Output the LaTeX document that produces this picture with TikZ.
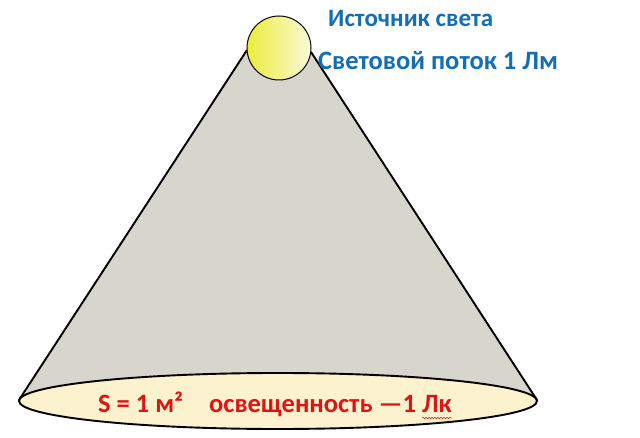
\documentclass[tikz,border=0pt]{standalone}
\usepackage{fontspec}
\setmainfont{Carlito}
\usetikzlibrary{decorations.pathmorphing,shapes.geometric}
\definecolor{conegray}{RGB}{214,214,204}
\definecolor{floorcream}{RGB}{253,242,206}
\definecolor{sunyellow}{RGB}{236,236,60}
\definecolor{sunpale}{RGB}{250,250,218}
\definecolor{labelblue}{RGB}{20,110,180}
\definecolor{labelred}{RGB}{225,20,20}
\tikzset{
  outline/.style={draw=black, line width=1.9pt, line join=round},
  bluelabel/.style={font=\bfseries\fontsize{25}{28}\selectfont, text=labelblue, anchor=base west, inner sep=0pt},
  redlabel/.style={font=\bfseries\fontsize{26.5}{30}\selectfont, text=labelred, anchor=base west, inner sep=0pt},
}
\begin{document}
\begin{tikzpicture}[x=1pt,y=-1pt]
\useasboundingbox[fill=white] (0,0) rectangle (640,438);
% cone
\coordinate (apexL) at (247,50);
\coordinate (apexR) at (311,52);
\coordinate (baseL) at (19,400);
\coordinate (baseR) at (537,400);
\fill[conegray] (apexL) -- (apexR) -- (baseR) -- (baseL) -- cycle;
\draw[outline] (apexL) -- (baseL);
\draw[outline] (apexR) -- (baseR);
% floor ellipse
\node[outline, ellipse, fill=floorcream, minimum width=518pt, minimum height=56pt, inner sep=0pt] (floor) at (278,401) {};
% light source
\node[circle, draw=black, line width=1pt, left color=sunyellow, right color=sunpale, minimum size=64pt, inner sep=0pt] (sun) at (279,48) {};
% labels
\node[bluelabel] (src) at (328,27) {Источник света};
\node[bluelabel, font=\bfseries\fontsize{26.5}{30}\selectfont] (flux) at (318,70) {Световой поток 1 Лм};
\node[redlabel] (area) at (98,412) {S = 1 м²\hspace{26pt}освещенность —1 Лк};
\draw[labelred, line width=0.5pt, decorate, decoration={snake, amplitude=0.8pt, segment length=3pt}] ([xshift=-30pt,yshift=-6pt]area.base east) -- ([yshift=-6pt]area.base east);
\end{tikzpicture}
\end{document}
